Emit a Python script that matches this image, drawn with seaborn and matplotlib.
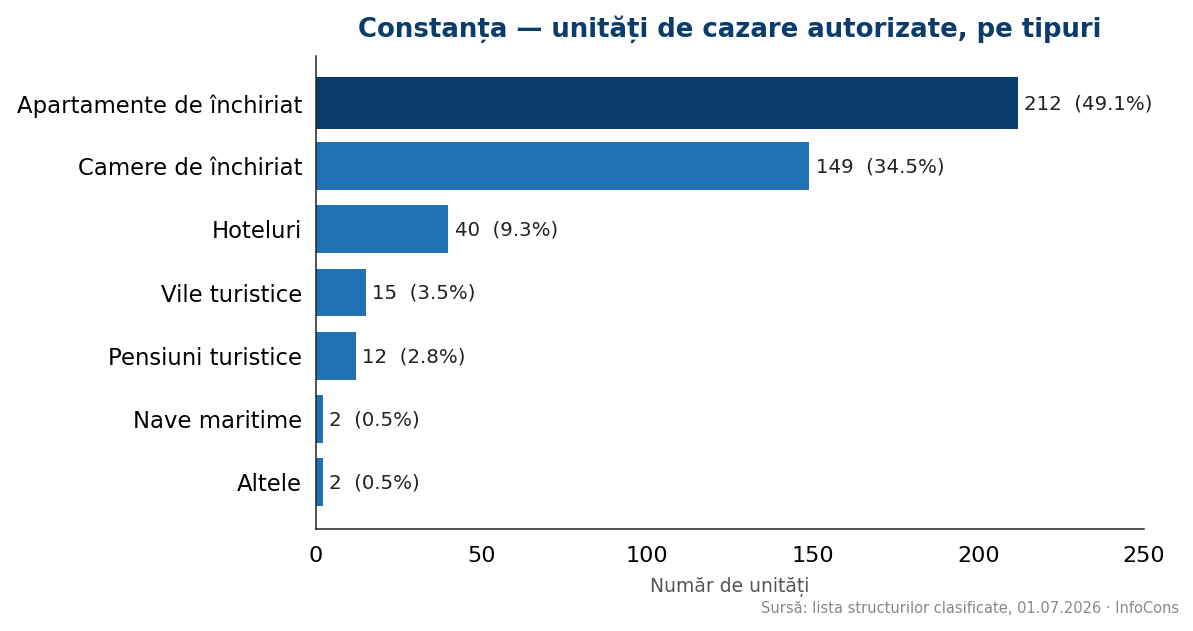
import pandas as pd
import matplotlib.pyplot as plt
import seaborn as sns

# Date: unități de cazare autorizate în Constanța
categorii = ["Apartamente de închiriat", "Camere de închiriat", "Hoteluri",
             "Vile turistice", "Pensiuni turistice", "Nave maritime", "Altele"]
valori = [212, 149, 40, 15, 12, 2, 2]
procente = ["49.1%", "34.5%", "9.3%", "3.5%", "2.8%", "0.5%", "0.5%"]
culori = ["#0b3c6b", "#2171b5", "#2171b5", "#2171b5", "#2171b5", "#2171b5", "#2171b5"]

df = pd.DataFrame({"categorie": categorii, "valoare": valori})

sns.set_style("white")
plt.rcParams["font.family"] = ["DejaVu Sans"]

fig = plt.figure(figsize=(11.93, 6.31), dpi=100)
ax = fig.add_axes([0.2649, 0.1616, 0.694, 0.7497])

sns.barplot(data=df, x="valoare", y="categorie", hue="categorie",
            palette=culori, width=0.76, legend=False, ax=ax, saturation=1,
            linewidth=0)

# bara evidențiată puțin mai groasă
p0 = ax.patches[0]
p0.set_y(p0.get_y() - 0.03)
p0.set_height(p0.get_height() + 0.06)

for i, (v, p) in enumerate(zip(valori, procente)):
    ax.annotate(f"{v}  ({p})", (v, i), xytext=(4.5, -0.7), textcoords="offset points",
                va="center", ha="left", fontsize=14.2, color="#222222")

ax.set_xlim(0, 250)
ax.set_ylim(6.75, -0.75)
ax.set_xticks([0, 50, 100, 150, 200, 250])
ax.tick_params(axis="x", labelsize=16, length=5, width=1, color="#222222",
               labelcolor="black", pad=7)
ax.tick_params(axis="y", labelsize=16.4, length=0, pad=10, labelcolor="black")
ax.set_ylabel("")
ax.set_xlabel("Număr de unități", fontsize=13.5, color="#555555", labelpad=8)
ax.set_title("Constanța — unități de cazare autorizate, pe tipuri",
             fontsize=18.7, fontweight="bold", color="#0b3c6b", pad=14)

for s in ["top", "right"]:
    ax.spines[s].set_visible(False)
for s in ["left", "bottom"]:
    ax.spines[s].set_color("#222222")
    ax.spines[s].set_linewidth(1.1)

fig.text(0.988, 0.035, "Sursă: lista structurilor clasificate, 01.07.2026 · InfoCons",
         ha="right", va="center", fontsize=10.5, color="#888888")

fig.savefig("out.png", dpi=100)
